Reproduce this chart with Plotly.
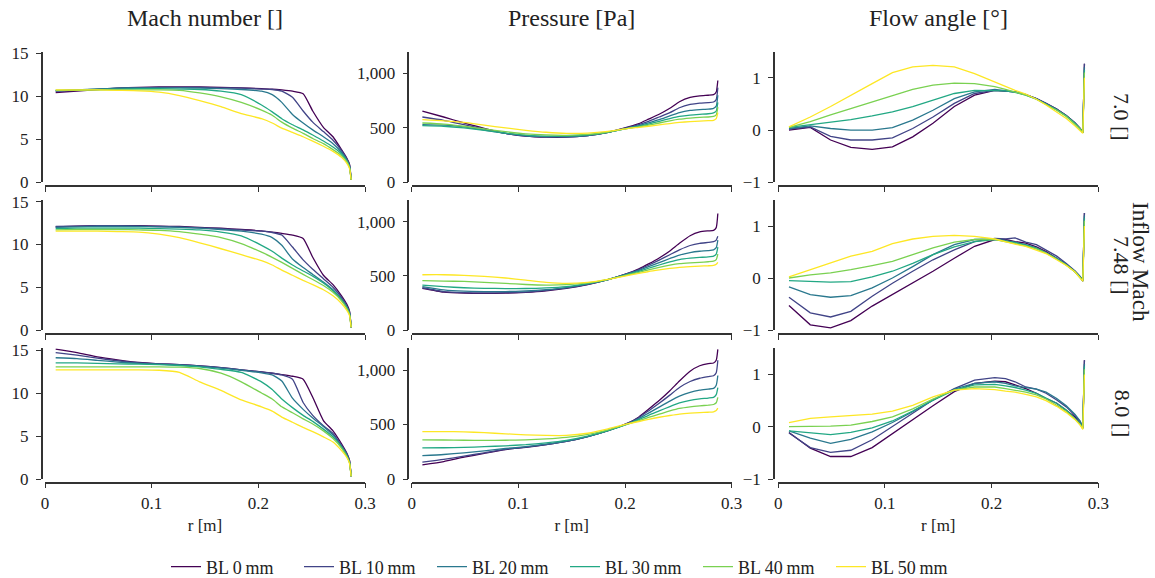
import plotly.graph_objects as go

# radial positions [m]
r = [0.010, 0.030, 0.049, 0.068, 0.088, 0.107, 0.126, 0.145, 0.165, 0.184, 0.203,
     0.213, 0.222, 0.232, 0.242, 0.251, 0.261, 0.270, 0.278, 0.283, 0.2855, 0.287]

bl_names = ["BL 0\u2009mm", "BL 10\u2009mm", "BL 20\u2009mm", "BL 30\u2009mm", "BL 40\u2009mm", "BL 50\u2009mm"]
colors = ["#440154", "#414487", "#2a788e", "#22a884", "#7ad151", "#fde725"]

col_titles = ["Mach number []", "Pressure [Pa]", "Flow angle [°]"]
row_labels = ["7.0 []", "7.48 []", "8.0 []"]

# Mach number, one list per BL thickness
mach_70 = [
    [10.45, 10.6, 10.8, 10.95, 11.05, 11.1, 11.1, 11.1, 11.05, 11.0, 10.9, 10.85, 10.75, 10.6, 10.3, 8.3, 6.4, 5.3, 3.8, 2.8, 2.1, 0.3],
    [10.6, 10.7, 10.85, 10.95, 11.0, 11.05, 11.05, 11.05, 11.0, 10.95, 10.85, 10.8, 10.6, 9.9, 8.3, 7.0, 5.9, 4.9, 3.7, 2.7, 2.0, 0.3],
    [10.65, 10.75, 10.85, 10.95, 11.0, 11.0, 11.0, 10.95, 10.9, 10.8, 10.6, 10.2, 9.3, 7.9, 6.9, 6.1, 5.3, 4.5, 3.5, 2.6, 1.9, 0.3],
    [10.7, 10.75, 10.8, 10.85, 10.9, 10.9, 10.85, 10.8, 10.6, 10.2, 9.0, 8.2, 7.4, 6.7, 6.1, 5.5, 4.8, 4.1, 3.3, 2.5, 1.8, 0.3],
    [10.7, 10.7, 10.75, 10.75, 10.75, 10.75, 10.7, 10.4, 9.95, 9.3, 8.4, 7.8, 7.0, 6.3, 5.7, 5.1, 4.5, 3.8, 3.1, 2.4, 1.7, 0.3],
    [10.75, 10.75, 10.75, 10.7, 10.65, 10.5, 10.1, 9.5, 8.8, 8.0, 7.4, 6.9, 6.3, 5.8, 5.3, 4.8, 4.2, 3.6, 2.9, 2.2, 1.6, 0.3],
]
mach_748 = [
    [12.05, 12.15, 12.2, 12.2, 12.2, 12.15, 12.1, 12.0, 11.9, 11.75, 11.6, 11.45, 11.3, 11.1, 10.7, 8.5, 6.4, 5.3, 4.0, 3.0, 2.2, 0.3],
    [12.1, 12.15, 12.2, 12.2, 12.15, 12.1, 12.05, 11.95, 11.85, 11.7, 11.55, 11.4, 11.1, 9.7, 8.2, 7.1, 6.0, 5.0, 3.8, 2.8, 2.1, 0.3],
    [12.0, 12.05, 12.1, 12.1, 12.1, 12.05, 12.0, 11.9, 11.75, 11.55, 11.2, 10.8, 9.9, 8.3, 7.3, 6.5, 5.6, 4.7, 3.6, 2.7, 2.0, 0.3],
    [11.85, 11.9, 11.9, 11.9, 11.9, 11.85, 11.8, 11.7, 11.45, 11.0, 9.9, 9.2, 8.4, 7.6, 6.9, 6.3, 5.5, 4.6, 3.5, 2.6, 1.9, 0.3],
    [11.7, 11.75, 11.75, 11.75, 11.7, 11.65, 11.5, 11.2, 10.8, 10.1, 9.1, 8.5, 7.9, 7.2, 6.5, 5.9, 5.2, 4.4, 3.4, 2.5, 1.8, 0.3],
    [11.55, 11.55, 11.55, 11.5, 11.45, 11.2, 10.8, 10.2, 9.5, 8.8, 8.1, 7.6, 7.0, 6.4, 5.8, 5.3, 4.7, 4.0, 3.1, 2.3, 1.7, 0.3],
]
mach_80 = [
    [15.1, 14.7, 14.2, 13.85, 13.55, 13.4, 13.3, 13.15, 12.95, 12.7, 12.45, 12.3, 12.15, 11.95, 11.6, 9.5, 6.8, 5.6, 4.1, 3.0, 2.2, 0.3],
    [14.7, 14.4, 14.05, 13.75, 13.5, 13.4, 13.3, 13.15, 12.95, 12.7, 12.45, 12.3, 12.1, 11.6, 8.9, 7.4, 6.2, 5.3, 3.9, 2.9, 2.1, 0.3],
    [14.1, 14.0, 13.8, 13.6, 13.45, 13.35, 13.25, 13.1, 12.9, 12.65, 12.35, 12.1, 11.4, 9.4, 8.1, 7.1, 6.1, 5.1, 3.8, 2.8, 2.0, 0.3],
    [13.5, 13.5, 13.45, 13.4, 13.35, 13.3, 13.2, 13.05, 12.75, 12.4, 11.3, 10.4, 9.3, 8.3, 7.4, 6.7, 5.8, 4.9, 3.7, 2.7, 1.9, 0.3],
    [13.05, 13.05, 13.05, 13.05, 13.05, 13.05, 13.0, 12.85, 12.3, 11.3, 10.0, 9.3, 8.4, 7.7, 7.0, 6.4, 5.6, 4.7, 3.6, 2.6, 1.9, 0.3],
    [12.7, 12.7, 12.7, 12.7, 12.7, 12.65, 12.4, 11.3, 10.3, 9.2, 8.4, 7.9, 7.2, 6.6, 6.0, 5.5, 4.9, 4.3, 3.3, 2.5, 1.8, 0.3],
]

# pressure [Pa]
p_70 = [
    [655, 600, 545, 495, 450, 425, 415, 415, 430, 460, 510, 540, 580, 625, 680, 740, 780, 795, 800, 805, 830, 935],
    [600, 570, 530, 490, 450, 425, 418, 418, 430, 460, 505, 530, 560, 600, 640, 685, 715, 728, 732, 738, 760, 870],
    [530, 525, 510, 480, 450, 430, 420, 420, 430, 458, 500, 520, 545, 575, 610, 640, 660, 668, 672, 680, 700, 800],
    [520, 515, 500, 478, 452, 432, 425, 425, 435, 460, 498, 515, 535, 560, 585, 605, 618, 625, 630, 638, 655, 735],
    [545, 535, 515, 490, 465, 445, 435, 432, 440, 462, 495, 510, 525, 545, 565, 580, 590, 597, 600, 606, 620, 690],
    [575, 565, 550, 525, 500, 478, 460, 450, 452, 468, 495, 505, 515, 528, 540, 550, 558, 563, 566, 570, 585, 640],
]
p_748 = [
    [385, 350, 340, 338, 340, 348, 362, 385, 420, 465, 525, 565, 610, 665, 730, 800, 870, 905, 915, 920, 945, 1075],
    [390, 355, 345, 342, 345, 350, 365, 388, 422, 465, 522, 558, 598, 645, 695, 740, 780, 800, 808, 815, 830, 865],
    [400, 370, 358, 355, 355, 360, 372, 392, 425, 466, 520, 550, 585, 622, 660, 692, 715, 727, 733, 740, 760, 830],
    [415, 400, 390, 385, 382, 383, 388, 400, 428, 466, 515, 542, 570, 600, 628, 650, 663, 670, 675, 682, 700, 765],
    [455, 452, 448, 440, 430, 420, 415, 418, 435, 468, 510, 532, 555, 578, 598, 612, 620, 625, 630, 635, 650, 700],
    [510, 510, 505, 495, 480, 460, 440, 430, 440, 468, 505, 522, 540, 555, 568, 578, 585, 590, 593, 597, 607, 625],
]
p_80 = [
    [130, 160, 200, 235, 270, 290, 315, 345, 390, 445, 515, 570, 640, 720, 810, 900, 990, 1040, 1060, 1065, 1090, 1190],
    [155, 180, 210, 240, 272, 292, 316, 345, 390, 445, 513, 565, 625, 695, 770, 840, 895, 925, 940, 948, 975, 1090],
    [215, 225, 240, 258, 280, 298, 320, 348, 390, 444, 510, 555, 605, 660, 715, 760, 795, 815, 825, 832, 860, 950],
    [285, 287, 290, 297, 305, 315, 332, 355, 393, 444, 507, 545, 585, 625, 665, 698, 722, 735, 743, 750, 775, 840],
    [360, 358, 356, 355, 356, 360, 368, 382, 410, 452, 505, 535, 565, 595, 625, 648, 663, 672, 678, 684, 700, 750],
    [435, 435, 433, 425, 415, 405, 400, 400, 420, 460, 508, 528, 548, 567, 583, 596, 605, 610, 613, 617, 628, 650],
]

# flow angle [deg]
ang_70 = [
    [0.0, 0.05, -0.19, -0.33, -0.37, -0.32, -0.13, 0.13, 0.45, 0.67, 0.76, 0.75, 0.73, 0.68, 0.6, 0.51, 0.4, 0.28, 0.14, 0.03, -0.05, 1.27],
    [0.02, 0.06, -0.12, -0.19, -0.19, -0.15, 0.03, 0.25, 0.51, 0.70, 0.76, 0.75, 0.73, 0.68, 0.6, 0.51, 0.4, 0.28, 0.14, 0.03, -0.05, 1.27],
    [0.03, 0.08, 0.03, 0.0, 0.0, 0.045, 0.19, 0.38, 0.6, 0.73, 0.78, 0.76, 0.73, 0.68, 0.6, 0.5, 0.39, 0.27, 0.13, 0.02, -0.05, 1.2],
    [0.05, 0.1, 0.16, 0.2, 0.27, 0.35, 0.45, 0.57, 0.7, 0.76, 0.76, 0.75, 0.72, 0.67, 0.59, 0.5, 0.39, 0.27, 0.13, 0.02, -0.05, 1.15],
    [0.05, 0.16, 0.29, 0.41, 0.54, 0.67, 0.78, 0.86, 0.9, 0.89, 0.83, 0.78, 0.73, 0.67, 0.59, 0.49, 0.38, 0.26, 0.12, 0.02, -0.05, 1.1],
    [0.06, 0.25, 0.45, 0.67, 0.89, 1.1, 1.21, 1.24, 1.21, 1.08, 0.92, 0.83, 0.76, 0.69, 0.59, 0.48, 0.35, 0.22, 0.08, -0.01, -0.06, 1.0],
]
ang_748 = [
    [-0.53, -0.9, -0.96, -0.82, -0.54, -0.32, -0.1, 0.13, 0.38, 0.61, 0.74, 0.74, 0.7, 0.67, 0.6, 0.51, 0.38, 0.26, 0.13, 0.02, -0.06, 1.25],
    [-0.37, -0.67, -0.75, -0.64, -0.35, -0.1, 0.13, 0.35, 0.54, 0.7, 0.76, 0.75, 0.77, 0.69, 0.64, 0.54, 0.42, 0.28, 0.14, 0.03, -0.05, 1.25],
    [-0.17, -0.32, -0.37, -0.34, -0.19, 0.0, 0.22, 0.45, 0.64, 0.74, 0.75, 0.72, 0.69, 0.64, 0.58, 0.49, 0.38, 0.26, 0.13, 0.02, -0.05, 1.2],
    [-0.05, -0.07, -0.08, -0.07, 0.02, 0.13, 0.28, 0.45, 0.6, 0.7, 0.74, 0.71, 0.68, 0.63, 0.57, 0.48, 0.37, 0.25, 0.12, 0.02, -0.05, 1.15],
    [0.0, 0.06, 0.1, 0.16, 0.24, 0.32, 0.45, 0.58, 0.69, 0.74, 0.74, 0.7, 0.67, 0.62, 0.56, 0.48, 0.36, 0.25, 0.12, 0.01, -0.06, 1.1],
    [0.02, 0.16, 0.28, 0.42, 0.51, 0.66, 0.75, 0.8, 0.82, 0.8, 0.75, 0.69, 0.65, 0.61, 0.54, 0.47, 0.35, 0.24, 0.12, 0.01, -0.06, 1.0],
]
ang_80 = [
    [-0.11, -0.41, -0.57, -0.57, -0.4, -0.13, 0.13, 0.4, 0.67, 0.83, 0.87, 0.86, 0.8, 0.73, 0.64, 0.54, 0.45, 0.32, 0.19, 0.06, -0.03, 1.27],
    [-0.12, -0.4, -0.49, -0.45, -0.25, 0.0, 0.25, 0.51, 0.73, 0.89, 0.94, 0.92, 0.86, 0.76, 0.72, 0.64, 0.51, 0.38, 0.22, 0.1, -0.02, 1.27],
    [-0.08, -0.22, -0.32, -0.24, -0.1, 0.08, 0.29, 0.51, 0.72, 0.83, 0.86, 0.83, 0.78, 0.75, 0.72, 0.66, 0.54, 0.4, 0.24, 0.11, -0.01, 1.2],
    [-0.08, -0.11, -0.15, -0.11, -0.02, 0.11, 0.3, 0.51, 0.7, 0.8, 0.81, 0.78, 0.75, 0.7, 0.64, 0.55, 0.45, 0.32, 0.17, 0.06, -0.03, 1.15],
    [0.0, 0.0, 0.01, 0.03, 0.1, 0.19, 0.34, 0.53, 0.7, 0.76, 0.76, 0.73, 0.7, 0.66, 0.61, 0.53, 0.41, 0.29, 0.15, 0.04, -0.04, 1.1],
    [0.08, 0.16, 0.19, 0.22, 0.24, 0.3, 0.41, 0.57, 0.7, 0.73, 0.71, 0.68, 0.66, 0.62, 0.57, 0.5, 0.39, 0.27, 0.14, 0.03, -0.05, 1.0],
]

grid = [
    [mach_70, p_70, ang_70],
    [mach_748, p_748, ang_748],
    [mach_80, p_80, ang_80],
]

W, H = 1155, 578
FONT = "Liberation Serif, Times New Roman, serif"
AX = "#333333"
TXT = "#222222"

# plot areas in pixels
col_px = [(45, 365), (411.7, 731.7), (778.3, 1098.3)]
yline_px = [41.7, 408.3, 774]
row_px = [(182.3, 51.7), (330, 200), (479, 348.3)]
xline_px = [186, 334, 482.7]

y_ranges = [[0, 15.2], [0, 1200], [-1, 1.5]]
y_ticks = [[0, 5, 10, 15], [0, 500, 1000], [-1, 0, 1]]

fig = go.Figure()
layout = {}

for i in range(3):
    for j in range(3):
        k = i * 3 + j + 1
        xa = "x" if k == 1 else "x%d" % k
        ya = "y" if k == 1 else "y%d" % k
        series = grid[i][j]
        for s in range(6):
            fig.add_trace(go.Scatter(
                x=r, y=series[s], mode="lines",
                line=dict(color=colors[s], width=1.3,
                          shape="linear" if j == 2 else "spline",
                          smoothing=0.5),
                name=bl_names[s], legendgroup=bl_names[s],
                showlegend=(k == 1),
                xaxis=xa, yaxis=ya,
            ))
        layout["xaxis" if k == 1 else "xaxis%d" % k] = dict(
            domain=[col_px[j][0] / W, col_px[j][1] / W],
            anchor="free", position=1 - xline_px[i] / H,
            automargin=False,
            range=[0, 0.3], tickvals=[0, 0.1, 0.2, 0.3],
            ticktext=["0", "0.1", "0.2", "0.3"],
            showticklabels=(i == 2),
            ticks="outside", ticklen=5, tickcolor=AX, tickwidth=1,
            showline=True, linecolor=AX, linewidth=1.5,
            showgrid=False, zeroline=False,
            tickfont=dict(family=FONT, size=17, color=TXT),
            title=dict(text="r [m]" if i == 2 else "", standoff=6,
                       font=dict(family=FONT, size=17, color=TXT)),
        )
        layout["yaxis" if k == 1 else "yaxis%d" % k] = dict(
            domain=[1 - row_px[i][0] / H, 1 - row_px[i][1] / H],
            anchor="free", position=yline_px[j] / W,
            automargin=False,
            range=y_ranges[j], tickvals=y_ticks[j], tickformat=",",
            ticks="outside", ticklen=5, tickcolor=AX, tickwidth=1,
            showline=True, linecolor=AX, linewidth=1.5,
            showgrid=False, zeroline=False,
            tickfont=dict(family=FONT, size=17, color=TXT),
            ticklabelstandoff=4,
        )

annotations = []
for j in range(3):
    annotations.append(dict(
        text=col_titles[j], x=(col_px[j][0] + col_px[j][1]) / 2 / W, y=1 - 18 / H,
        xref="paper", yref="paper", showarrow=False,
        font=dict(family=FONT, size=24, color=TXT), xanchor="center", yanchor="middle",
    ))
for i in range(3):
    annotations.append(dict(
        text=row_labels[i], x=1122 / W, y=1 - (row_px[i][0] + row_px[i][1]) / 2 / H,
        xref="paper", yref="paper", showarrow=False, textangle=90,
        font=dict(family=FONT, size=22, color=TXT), xanchor="center", yanchor="middle",
    ))
annotations.append(dict(
    text="Inflow Mach", x=1141 / W, y=1 - 262 / H,
    xref="paper", yref="paper", showarrow=False, textangle=90,
    font=dict(family=FONT, size=23, color=TXT), xanchor="center", yanchor="middle",
))

fig.update_layout(
    **layout,
    annotations=annotations,
    width=W, height=H,
    margin=dict(l=0, r=0, t=0, b=0, autoexpand=False),
    paper_bgcolor="white", plot_bgcolor="white",
    font=dict(family=FONT, color=TXT),
    legend=dict(orientation="h", x=565 / W, xanchor="center", y=1 - 567 / H, yanchor="middle",
                font=dict(family=FONT, size=18, color=TXT), itemwidth=30,
                entrywidth=88, entrywidthmode="pixels", tracegroupgap=0),
)

# the page body has a default margin, drop it so the figure fills the window
fig.write_html("out.html", config={"displayModeBar": False},
               post_script="document.body.style.margin='0';document.body.style.overflow='hidden';")
